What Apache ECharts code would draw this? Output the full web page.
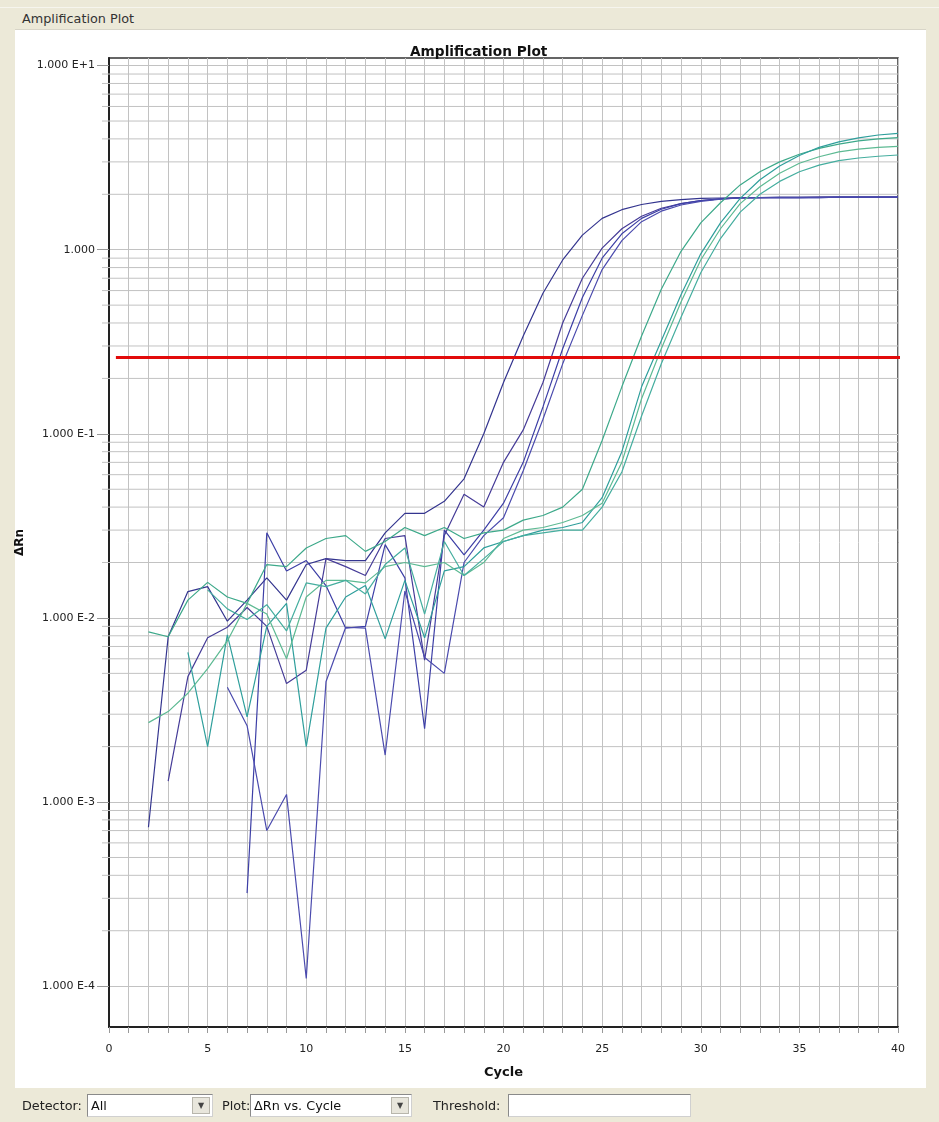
<!DOCTYPE html>
<html>
<head>
<meta charset="utf-8">
<script src="https://cdn.jsdelivr.net/npm/echarts@6/dist/echarts.min.js"></script>
<style>
  html,body{margin:0;padding:0;}
  body{width:939px;height:1122px;background:#ece9d8;position:relative;overflow:hidden;font-family:"DejaVu Sans",Arial,sans-serif;}
  #hdr{position:absolute;left:22px;top:11px;font-size:12.8px;color:#333;}
  #hdrline{position:absolute;left:0;top:7px;width:939px;height:1px;background:#f6f5ee;}
  #panel{position:absolute;left:15px;top:29px;width:911px;height:1058px;background:#fff;border-top:1px solid #d8d5c8;}
  #chart{position:absolute;left:0;top:0;width:939px;height:1122px;}
  .lbl{position:absolute;font-size:12.8px;color:#222;top:1098px;}
  .box{position:absolute;top:1094px;height:23px;background:#fff;border:1px solid #8a8a8a;border-right-color:#d0d0d0;border-bottom-color:#d0d0d0;font-size:12.8px;line-height:21px;padding-left:3px;box-sizing:border-box;color:#111;}
  .btn{position:absolute;top:2px;right:2px;width:18px;height:17px;background:#e8e6dc;border:1px solid #b8b6ac;box-sizing:border-box;font-size:8px;line-height:15px;text-align:center;color:#444;}
</style>
</head>
<body>
<div id="hdrline"></div>
<div id="hdr">Amplification Plot</div>
<div id="panel"></div>
<div id="chart"></div>
<div class="lbl" style="left:22px;">Detector:</div>
<div class="box" style="left:87px;width:126px;">All<div class="btn">&#9660;</div></div>
<div class="lbl" style="left:222px;">Plot:</div>
<div class="box" style="left:250px;width:162px;">&Delta;Rn vs. Cycle<div class="btn">&#9660;</div></div>
<div class="lbl" style="left:433px;">Threshold:</div>
<div class="box" style="left:508px;width:183px;"></div>
<script>
// ---- data ----
const chartTitle = 'Amplification Plot';
const xName = 'Cycle';
const yName = '\u0394Rn';
const cycles = [1,2,3,4,5,6,7,8,9,10,11,12,13,14,15,16,17,18,19,20,21,22,23,24,25,26,27,28,29,30,31,32,33,34,35,36,37,38,39,40];
const xTickLabels = ['0','5','10','15','20','25','30','35','40'];
const xTickValues = [0,5,10,15,20,25,30,35,40];
const yTickLabels = ['1.000 E-4','1.000 E-3','1.000 E-2','1.000 E-1','1.000','1.000 E+1'];
const yTickValues = [0.0001,0.001,0.01,0.1,1,10];
const yMinorValues = [
  0.0002,0.0003,0.0004,0.0005,0.0006,0.0007,0.0008,0.0009,
  0.002,0.003,0.004,0.005,0.006,0.007,0.008,0.009,
  0.02,0.03,0.04,0.05,0.06,0.07,0.08,0.09,
  0.2,0.3,0.4,0.5,0.6,0.7,0.8,0.9,
  2,3,4,5,6,7,8,9
];
const yMin = 0.00006;
const yMax = 11.0;
const threshold = 0.26;
const thresholdSpan = [0.35, 40.25];

const wellA = [null,.00073,.0079,.0139,.0148,.0096,.0125,.0165,.0125,.0195,.021,.0205,.0205,.029,.037,.037,.043,.057,.10,.19,.34,.58,.88,1.2,1.48,1.65,1.76,1.83,1.87,1.9,1.91,1.92,1.92,1.93,1.93,1.93,1.93,1.93,1.93,1.93];
const wellB = [null,null,.0013,.0048,.0078,.0089,.0114,.009,.0044,.0052,.021,.019,.017,.027,.028,.0059,.028,.047,.04,.07,.105,.19,.40,.70,1.02,1.30,1.52,1.68,1.78,1.85,1.89,1.91,1.92,1.92,1.92,1.93,1.93,1.93,1.93,1.93];
const wellC = [null,null,null,null,null,null,.00032,.029,.018,.0205,.015,.0088,.009,.025,.0165,.0025,.03,.022,.03,.042,.07,.14,.29,.55,.90,1.22,1.48,1.66,1.78,1.85,1.89,1.91,1.92,1.92,1.92,1.92,1.93,1.93,1.93,1.93];
const wellD = [null,null,null,null,null,.0042,.0026,.0007,.0011,.00011,.0045,.0089,.0088,.0018,.014,.0061,.005,.02,.028,.035,.063,.12,.24,.44,.78,1.12,1.42,1.62,1.75,1.83,1.88,1.91,1.92,1.92,1.92,1.92,1.93,1.93,1.93,1.93];
const wellE = [null,.0084,.0079,.0125,.0156,.013,.012,.0195,.019,.024,.027,.028,.023,.026,.031,.028,.031,.027,.029,.030,.034,.036,.040,.050,.092,.18,.34,.61,.98,1.40,1.80,2.25,2.65,3.0,3.3,3.55,3.75,3.9,4.0,4.06];
const wellF = [null,null,null,.0065,.002,.0081,.0029,.009,.012,.002,.0088,.013,.015,.0077,.016,.0078,.018,.019,.024,.026,.028,.030,.031,.033,.045,.08,.18,.32,.57,.95,1.4,1.9,2.4,2.85,3.25,3.6,3.85,4.05,4.2,4.29];
const wellG = [null,.0027,.0031,.0039,.0053,.0075,.012,.0105,.006,.013,.016,.016,.0155,.019,.020,.019,.020,.017,.020,.027,.030,.031,.033,.036,.042,.07,.155,.29,.52,.88,1.3,1.78,2.2,2.6,2.95,3.2,3.4,3.52,3.6,3.64];
const wellH = [null,null,null,null,.0142,.0112,.0098,.0118,.0085,.0155,.0148,.016,.0135,.0195,.024,.0105,.026,.017,.021,.026,.028,.029,.030,.030,.040,.062,.125,.24,.43,.75,1.15,1.6,2.0,2.35,2.65,2.88,3.05,3.15,3.22,3.27];

const wells = [wellA, wellB, wellC, wellD, wellE, wellF, wellG, wellH];
const wellColors = ['#34358f','#463c98','#3d3fa6','#4b4bae','#3da98a','#2f9f9c','#5dba93','#45ae9f'];

// ---- chart ----
const chart = echarts.init(document.getElementById('chart'), null, {renderer:'canvas'});
const grayGrid = '#c2c2c2';
const font = '"DejaVu Sans", Arial, sans-serif';

const series = wells.map((w, i) => ({
  type: 'line',
  data: cycles.map((c, k) => [c, w[k] == null ? '-' : w[k]]),
  showSymbol: false,
  symbol: 'none',
  connectNulls: false,
  lineStyle: {color: wellColors[i], width: 1.2},
  itemStyle: {color: wellColors[i]},
  z: 3,
  silent: true,
  animation: false
}));

series.push({
  type: 'custom',
  silent: true,
  z: 1,
  clip: false,
  data: yMinorValues.map(v => [0, v]),
  encode: {x: 0, y: 1},
  renderItem: function (params, api) {
    const v = api.value(1);
    const p0 = api.coord([0, v]);
    const p1 = api.coord([40, v]);
    return {type: 'line', shape: {x1: p0[0] - 7, y1: p0[1], x2: p1[0], y2: p1[1]},
      style: {stroke: grayGrid, lineWidth: 1}};
  },
  animation: false
});

series.push({
  type: 'line',
  data: [[thresholdSpan[0], threshold], [thresholdSpan[1], threshold]],
  showSymbol: false,
  symbol: 'none',
  clip: false,
  lineStyle: {color: '#e20a0a', width: 3},
  z: 5,
  silent: true,
  animation: false
});

chart.setOption({
  animation: false,
  backgroundColor: 'transparent',
  title: {
    text: chartTitle,
    left: 405, top: 40,
    textStyle: {fontFamily: font, fontSize: 13.7, fontWeight: 'bold', color: '#111'}
  },
  grid: {left: 109, right: 41, top: 58, bottom: 95, show: true, borderColor: '#333', borderWidth: 1.5, backgroundColor: 'transparent'},
  xAxis: {
    type: 'value', min: 0, max: 40, interval: 1,
    name: xName, nameLocation: 'middle', nameGap: 39,
    nameTextStyle: {fontFamily: font, fontSize: 13, fontWeight: 'bold', color: '#111'},
    axisLine: {show: true, lineStyle: {color: '#222', width: 2}},
    axisTick: {show: true, length: 6, lineStyle: {color: '#999'}},
    axisLabel: {
      fontFamily: font, fontSize: 11, color: '#222', margin: 17,
      formatter: function (v) { const i = xTickValues.indexOf(v); return i >= 0 ? xTickLabels[i] : ''; }
    },
    splitLine: {show: true, lineStyle: {color: grayGrid, width: 1}}
  },
  yAxis: {
    type: 'log', logBase: 10, min: yMin, max: yMax,
    name: yName, nameLocation: 'middle', nameGap: 68, nameRotate: 90,
    nameTextStyle: {fontFamily: font, fontSize: 12, fontWeight: 'bold', color: '#111'},
    axisLine: {show: true, lineStyle: {color: '#222', width: 2}},
    axisTick: {show: true, length: 12, lineStyle: {color: '#999'}, customValues: yTickValues},
    axisLabel: {
      fontFamily: font, fontSize: 11, color: '#222', margin: 14,
      customValues: yTickValues,
      formatter: function (v) {
        const e = Math.log10(v); const r = Math.round(e);
        if (Math.abs(e - r) > 1e-6) return '';
        const i = yTickValues.findIndex(t => Math.abs(Math.log10(t) - r) < 1e-6);
        return i >= 0 ? yTickLabels[i] : '';
      }
    },
    splitLine: {show: true, lineStyle: {color: grayGrid, width: 1}}
  },
  series: series
});
</script>
</body>
</html>
